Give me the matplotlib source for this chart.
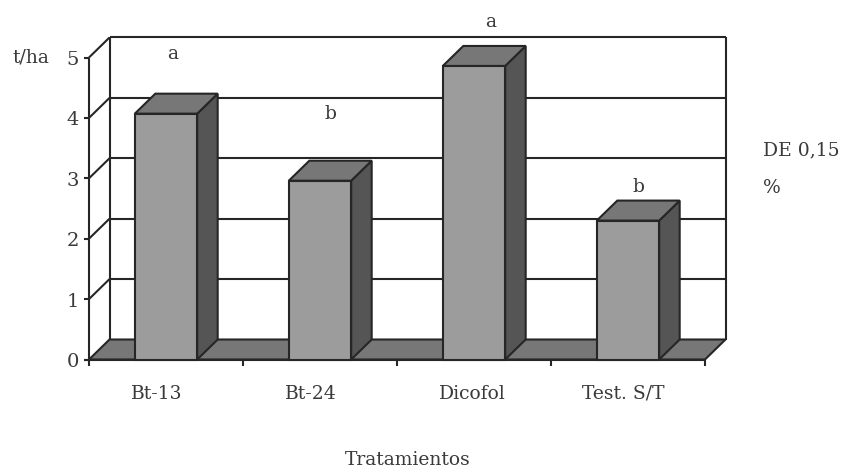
import matplotlib
matplotlib.use("Agg")
import matplotlib.pyplot as plt
from matplotlib.patches import Polygon

plt.rcParams['font.family'] = ['DejaVu Serif']

tratamientos = ["Bt-13", "Bt-24", "Dicofol", "Test. S/T"]
rendimiento = [4.07, 2.96, 4.86, 2.30]
letras = ["a", "b", "a", "b"]
letra_x = [0.545, 1.571, 2.61, 3.571]
letra_y = [5.05, 4.07, 5.59, 2.86]
label_x = [0.44, 1.44, 2.49, 3.47]
yticks = [0, 1, 2, 3, 4, 5]

W, H = 847, 468
fig = plt.figure(figsize=(W / 100, H / 100), dpi=100)
# axes box = front plane of the fake 3d plot, in pixels
ax = fig.add_axes([89 / W, 1 - 359.5 / H, 616 / W, 302 / H])
ax.set_xlim(0, 4)
ax.set_ylim(0, 5)

# depth of the fake 3d, in data units
dx = 20.5 / 154
dy = 20 / 60.4
bw = 0.405
edge = "#262626"
lw = 1.5
txt = "#3a3a3a"
fs = 13.5


def poly(pts, fc, z):
    ax.add_patch(Polygon(pts, closed=True, fc=fc, ec=edge, lw=lw, zorder=z, clip_on=False, joinstyle="miter"))


def line(xs, ys, z=1):
    ax.plot(xs, ys, color=edge, lw=lw, zorder=z, clip_on=False, solid_capstyle="butt")


# floor
poly([(0, 0), (4, 0), (4 + dx, dy), (dx, dy)], "#777777", 1)

# back wall and grid
line([dx, dx], [dy, 5 + dy])
line([4 + dx, 4 + dx], [dy, 5 + dy])
for v in yticks[1:]:
    line([dx, 4 + dx], [v + dy, v + dy])
    line([0, dx], [v, v + dy])

# front axes
line([0, 0], [0, 5], 2)
line([-0.03, 4], [0, 0], 2)
for v in yticks:
    line([-0.03, 0], [v, v], 2)
for i in range(5):
    line([i, i], [0, -0.1], 2)

# bars
for i, v in enumerate(rendimiento):
    x0 = i + 0.5 - bw / 2
    x1 = x0 + bw
    poly([(x1, 0), (x1 + dx, dy), (x1 + dx, v + dy), (x1, v)], "#555555", 3)
    poly([(x0, v), (x1, v), (x1 + dx, v + dy), (x0 + dx, v + dy)], "#777777", 3)
    poly([(x0, 0), (x1, 0), (x1, v), (x0, v)], "#9c9c9c", 4)
    ax.text(letra_x[i], letra_y[i], letras[i], fontsize=fs, color=txt, ha="center", va="center", zorder=6)

ax.axis("off")

for v in yticks:
    ax.text(-0.105, v - 0.04, str(v), fontsize=14, color=txt, ha="center", va="center")
for i, t in enumerate(tratamientos):
    ax.text(label_x[i], -0.57, t, fontsize=fs, color=txt, ha="center", va="center")

fig.text(31 / W, 1 - 57 / H, "t/ha", fontsize=fs, color=txt, ha="center", va="center")
fig.text(763 / W, 1 - 150 / H, "DE 0,15", fontsize=fs, color=txt, ha="left", va="center")
fig.text(763 / W, 1 - 188 / H, "%", fontsize=fs, color=txt, ha="left", va="center")
fig.text(408 / W, 1 - 460 / H, "Tratamientos", fontsize=fs, color=txt, ha="center", va="center")

fig.savefig("out.png", dpi=100)
